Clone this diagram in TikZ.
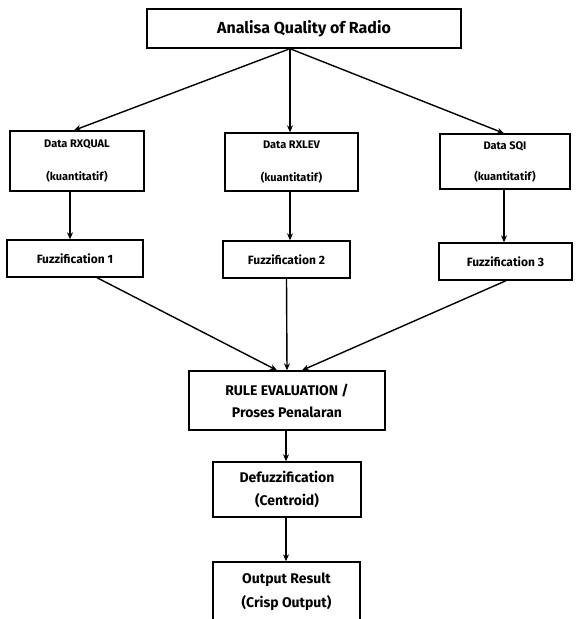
\documentclass[tikz,border=0pt]{standalone}
\usepackage{fontspec}
\setmainfont{Fira Sans}
\usetikzlibrary{arrows.meta}
\begin{document}
\begin{tikzpicture}[x=1pt,y=-1pt,
  box/.style={draw,line width=1.4pt,inner sep=0pt,align=center},
  arr/.style={line width=1.4pt,-{Stealth[length=7pt,width=6pt]}}]
\clip (0,0) rectangle (576,619);
\useasboundingbox (0,0) rectangle (576,619);
\fill[white] (0,0) rectangle (576,619);
% boxes
\node[box,minimum width=314pt,minimum height=39pt,font=\bfseries\fontsize{16}{19}\selectfont] (top) at (304,28.5) {Analisa Quality of Radio};
\node[box,minimum width=134pt,minimum height=60pt,font=\bfseries\fontsize{11}{33}\selectfont] (rxqual) at (77,161) {Data RXQUAL\\(kuantitatif)};
\node[box,minimum width=133pt,minimum height=58pt,font=\bfseries\fontsize{11}{33}\selectfont] (rxlev) at (291.5,162) {Data RXLEV\\(kuantitatif)};
\node[box,minimum width=130pt,minimum height=55pt,font=\bfseries\fontsize{11}{31}\selectfont] (sqi) at (505,161.5) {Data SQI\\(kuantitatif)};
\node[box,minimum width=136pt,minimum height=37pt,font=\bfseries\fontsize{12}{14}\selectfont] (f1) at (75,258.5) {Fuzzification 1};
\node[box,minimum width=127pt,minimum height=37pt,font=\bfseries\fontsize{12}{14}\selectfont] (f2) at (286.5,259.5) {Fuzzification 2};
\node[box,minimum width=133pt,minimum height=37pt,font=\bfseries\fontsize{12}{14}\selectfont] (f3) at (505.5,261.5) {Fuzzification 3};
\node[box,minimum width=196pt,minimum height=59pt,font=\bfseries\fontsize{14}{22}\selectfont] (rule) at (287,400.5) {RULE EVALUATION /\\Proses Penalaran};
\node[box,minimum width=148pt,minimum height=55pt,font=\bfseries\fontsize{14}{23}\selectfont] (defuzz) at (287,489.5) {Defuzzification\\(Centroid)};
\node[box,minimum width=147pt,minimum height=60pt,font=\bfseries\fontsize{14}{24}\selectfont] (output) at (286.5,592) {Output Result\\(Crisp Output)};
% connectors
\coordinate (src) at ([xshift=-14pt]top.south);
\draw[arr] (src) -- ([xshift=-3pt]rxqual.north);
\draw[arr] (src) -- (src |- rxlev.north);
\draw[arr] (src) -- ([xshift=-1pt]sqi.north);
\coordinate (a1) at ([xshift=-7pt]rxqual.south);
\coordinate (a2) at ([xshift=-1.5pt]rxlev.south);
\coordinate (a3) at ([xshift=-1pt]sqi.south);
\draw[arr] (a1) -- (a1 |- f1.north);
\draw[arr] (a2) -- (a2 |- f2.north);
\draw[arr] (a3) -- (a3 |- f3.north);
\draw[arr] ([xshift=22pt]f1.south) -- ([xshift=-10pt]rule.north);
\draw[arr] (f2.south) -- (rule.north);
\draw[arr] ([xshift=0.5pt]f3.south) -- ([xshift=15pt]rule.north);
\coordinate (a4) at ([xshift=-1pt]rule.south);
\coordinate (a5) at ([xshift=-1pt]defuzz.south);
\draw[arr] (a4) -- (a4 |- defuzz.north);
\draw[arr] (a5) -- (a5 |- output.north);
\end{tikzpicture}
\end{document}
